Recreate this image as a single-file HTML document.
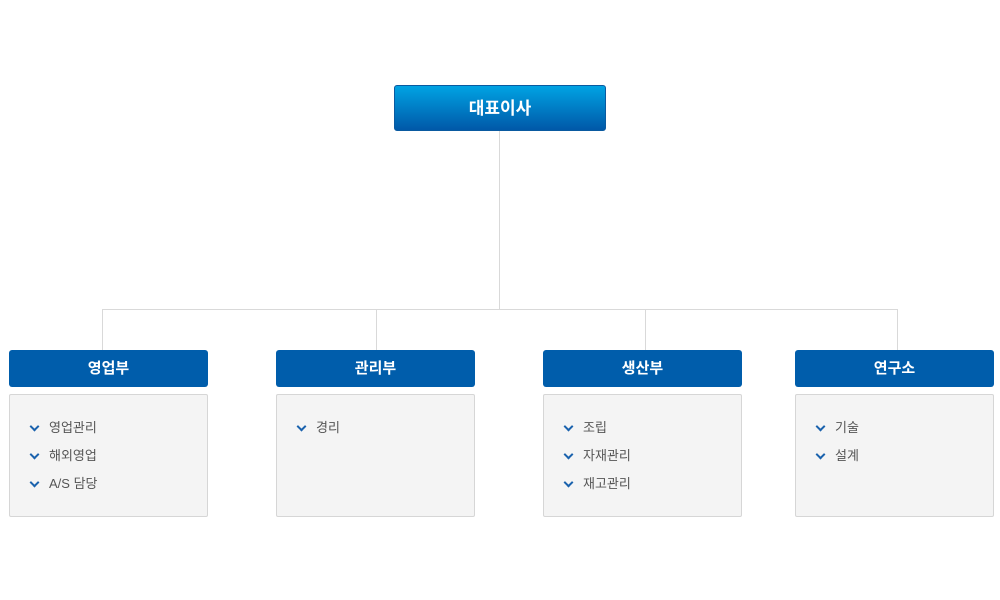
<!DOCTYPE html>
<html><head><meta charset="utf-8"><style>
body{margin:0;width:1000px;height:600px;background:#fff;position:relative;overflow:hidden;font-family:"Liberation Sans","Noto Sans CJK KR","NanumGothic",sans-serif}
.a{position:absolute}
.top{left:394px;top:85px;width:212px;height:46px;border-radius:3px;background:linear-gradient(#00a3e3,#0058a8);color:#fff;font-weight:bold;font-size:17px;text-align:center;line-height:46px;box-sizing:border-box;border:1px solid #0a5aa0}
.h{top:350px;width:199px;height:37px;background:#005dab;border-radius:3px;color:#fff;font-weight:bold;font-size:15px;text-align:center;line-height:37px}
.b{top:394px;width:199px;height:123px;background:#f4f4f4;border:1px solid #d6d6d6;box-sizing:border-box;border-radius:2px}
.ln{background:#d9d9d9}
ul{list-style:none;margin:0;padding:21px 0 0 20px}
li{height:28px;line-height:24px;font-size:13px;color:#555;position:relative;padding-left:19px}
li:before{content:"";position:absolute;left:1px;top:7px;width:5px;height:5px;border-right:2px solid #1a62ad;border-bottom:2px solid #1a62ad;transform:rotate(45deg)}
</style></head><body>
<div class="a ln" style="left:499px;top:131px;width:1px;height:178px"></div>
<div class="a ln" style="left:102px;top:309px;width:796px;height:1px"></div>
<div class="a ln" style="left:102px;top:309px;width:1px;height:41px"></div>
<div class="a ln" style="left:376px;top:309px;width:1px;height:41px"></div>
<div class="a ln" style="left:645px;top:309px;width:1px;height:41px"></div>
<div class="a ln" style="left:897px;top:309px;width:1px;height:41px"></div>
<div class="a top">대표이사</div>
<div class="a h" style="left:9px">영업부</div>
<div class="a h" style="left:276px">관리부</div>
<div class="a h" style="left:543px">생산부</div>
<div class="a h" style="left:795px">연구소</div>
<div class="a b" style="left:9px"><ul><li>영업관리</li><li>해외영업</li><li>A/S 담당</li></ul></div>
<div class="a b" style="left:276px"><ul><li>경리</li></ul></div>
<div class="a b" style="left:543px"><ul><li>조립</li><li>자재관리</li><li>재고관리</li></ul></div>
<div class="a b" style="left:795px"><ul><li>기술</li><li>설계</li></ul></div>
</body></html>
